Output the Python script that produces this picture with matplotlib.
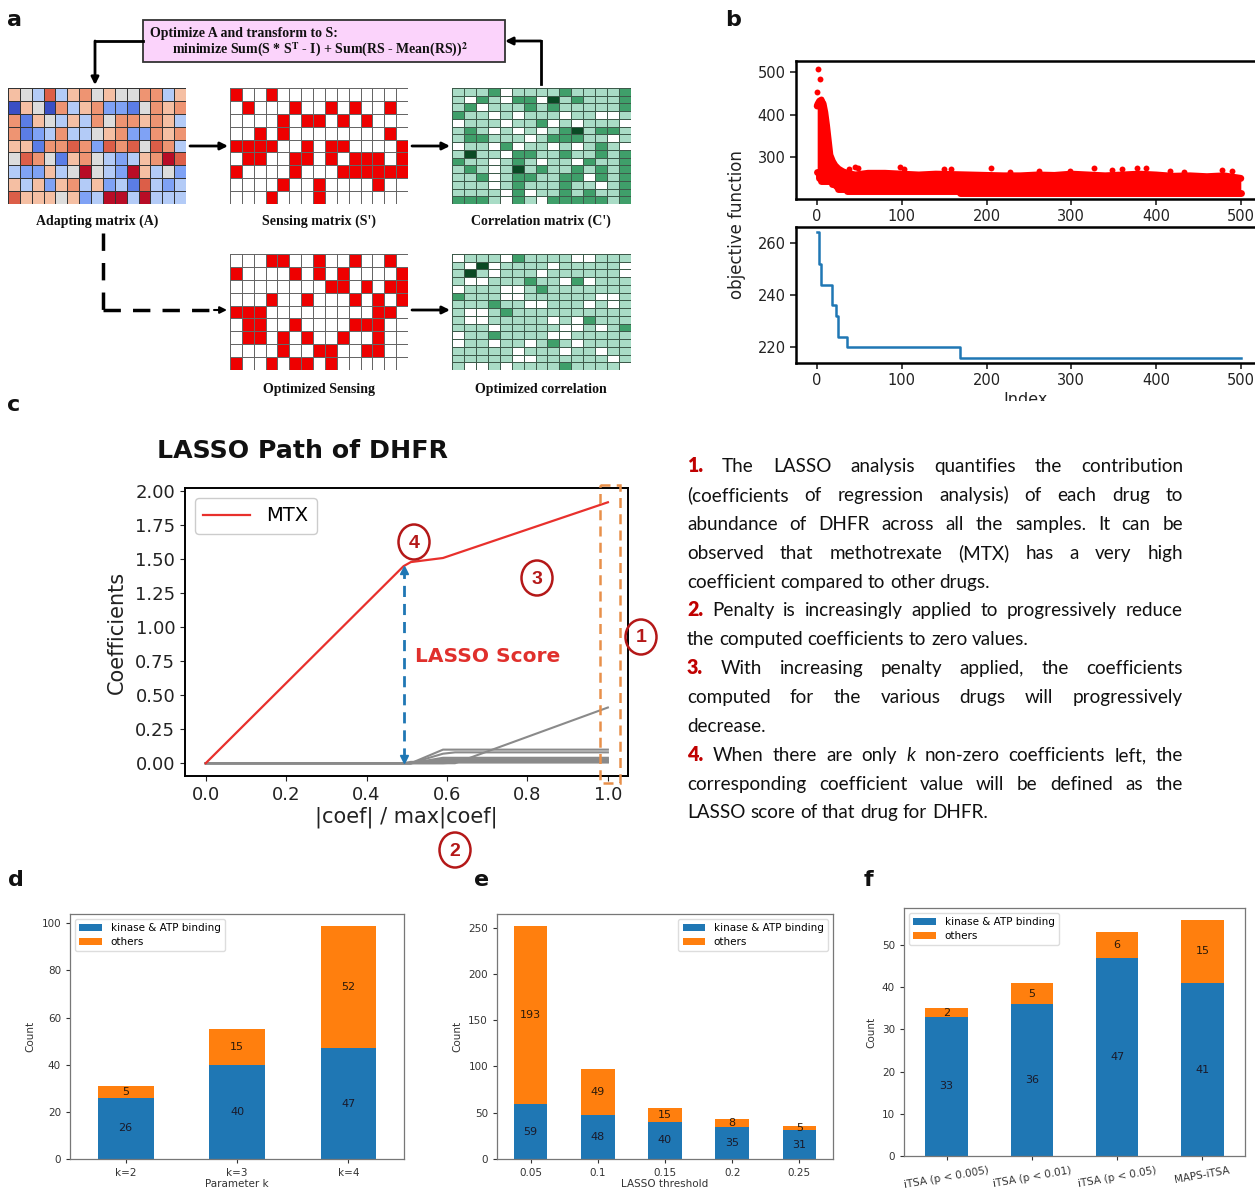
import numpy as np
import matplotlib
matplotlib.use("Agg")
import matplotlib.pyplot as plt
from matplotlib.patches import Rectangle, Ellipse
from matplotlib.colors import ListedColormap, Normalize

# ---------------------------------------------------------------- data
# (a) adapting matrix, diverging levels -4..4
adapting = [
    [1, 0, -1, 3, -1, 1, 2, 0, 1, 0, 0, 2, 2, -1, 1],
    [-4, 1, 0, -4, 2, -1, 1, 2, -2, -2, -3, 0, 2, 1, 2],
    [2, -3, 1, 0, -1, 1, -1, 2, 0, 2, 2, 1, 2, 1, -1],
    [2, -3, -2, -1, 2, -1, -1, 0, 1, 2, -2, -2, 2, 1, 2],
    [1, 1, -3, 2, 2, 3, 2, -2, 3, 2, 3, 0, 3, 2, -1],
    [0, 3, 2, 0, -3, 1, 2, 0, -1, -2, -1, 1, 2, 4, 3],
    [-1, -2, -2, 1, -1, 0, 4, 0, -1, -2, 4, 1, -1, 0, -2],
    [1, -1, 1, -2, 1, 2, -1, 1, -2, -1, -3, 3, -1, -2, -1],
    [3, 1, 1, 1, 0, 1, -2, -1, 4, 4, -1, 4, -1, -1, -1],
]
sensing = [
    "100100000000000",
    "010001001010010",
    "000010110101000",
    "001010000000010",
    "111100101100001",
    "011001101011101",
    "100001000111111",
    "000010010000100",
    "000100010000000",
]
correlation = [
    "111201111211112",
    "102102203121112",
    "120111212111112",
    "211010111011001",
    "011101120101110",
    "121010101231221",
    "122111012221101",
    "011020110101210",
    "131102211211212",
    "211012101102112",
    "121013121121212",
    "112012211220212",
    "111012111211012",
    "111102011212112",
    "222102102222212",
]
opt_sensing = [
    "000110010010010",
    "100001010100001",
    "000000001101011",
    "000100100010101",
    "111000000000110",
    "011001000011100",
    "011010100100100",
    "000010011001100",
    "100101101000000",
]
opt_correlation = [
    "011102111100111",
    "103011110111110",
    "131011101111110",
    "100111211020111",
    "011100121111111",
    "211100111111001",
    "111211001110101",
    "100121111111111",
    "100111110102111",
    "111011111001012",
    "011211110011111",
    "011011012101111",
    "111110111011011",
    "111110011111101",
    "100101111211110",
]

# (b) best objective so far (step changes) and the sampled population cloud
best_idx = [0, 2, 5, 17, 22, 24, 35, 168, 500]
best_val = [264, 252, 244, 236, 232, 224, 220, 216, 216]
cloud_idx = [0, 1, 3, 5, 7, 9, 11, 13, 15, 18, 21, 25, 30, 35, 45, 60, 80, 100,
             120, 140, 160, 180, 200, 220, 240, 260, 280, 300, 320, 340, 360,
             380, 400, 420, 440, 460, 480, 500]
cloud_top = [420, 425, 432, 432, 425, 405, 375, 340, 305, 290, 280, 272, 266,
             262, 258, 262, 262, 260, 258, 260, 259, 258, 257, 256, 256, 258,
             257, 260, 258, 256, 258, 260, 258, 255, 256, 254, 256, 250]
outlier_idx = [1, 3, 0, 4, 6, 37, 45, 48, 98, 103, 150, 158, 205, 228, 262,
               298, 327, 348, 360, 378, 388, 417, 433, 478, 490]
outlier_val = [508, 483, 452, 436, 430, 273, 276, 274, 276, 272, 272, 273, 274,
               266, 268, 268, 274, 270, 272, 274, 274, 268, 266, 270, 268]

# (c) LASSO path of DHFR
path_x = [0.0, 0.492, 0.51, 0.59, 0.62, 1.0]
mtx_coef = [0.0, 1.45, 1.48, 1.51, 1.54, 1.92]
other_coefs = [
    [0, 0, 0, 0.10, 0.10, 0.10],
    [0, 0, 0, 0.07, 0.08, 0.08],
    [0, 0, 0, 0.0, 0.0, 0.41],
    [0, 0, 0, 0.04, 0.04, 0.04],
    [0, 0, 0, 0.03, 0.03, 0.03],
    [0, 0, 0, 0.02, 0.02, 0.02],
    [0, 0, 0.01, 0.01, 0.01, 0.01],
    [0, 0, 0, 0.0, 0.005, 0.005],
]
score_knot = 1  # knot where only k coefficients remain non-zero

# (d) parameter k
k_labels = ["k=2", "k=3", "k=4"]
k_kinase = [26, 40, 47]
k_others = [5, 15, 52]
# (e) LASSO threshold
thr_labels = ["0.05", "0.1", "0.15", "0.2", "0.25"]
thr_kinase = [59, 48, 40, 35, 31]
thr_others = [193, 49, 15, 8, 5]
# (f) method comparison
m_labels = ["iTSA (p < 0.005)", "iTSA (p < 0.01)", "iTSA (p < 0.05)", "MAPS-iTSA"]
m_kinase = [33, 36, 47, 41]
m_others = [2, 5, 6, 15]

text_lines = [
    ("[1.] The LASSO analysis quantifies the contribution", True),
    ("(coefficients of regression analysis) of each drug to", True),
    ("abundance of DHFR across all the samples. It can be", True),
    ("observed that methotrexate (MTX) has a very high", True),
    ("coefficient compared to other drugs.", False),
    ("[2.] Penalty is increasingly applied to progressively reduce", True),
    ("the computed coefficients to zero values.", False),
    ("[3.] With increasing penalty applied, the coefficients", True),
    ("computed for the various drugs will progressively", True),
    ("decrease.", False),
    ("[4.] When there are only _k_ non-zero coefficients left, the", True),
    ("corresponding coefficient value will be defined as the", True),
    ("LASSO score of that drug for DHFR.", False),
]
text_y = [467, 496, 525, 554, 583, 611, 640, 669, 698, 727, 756, 785, 813]

# ---------------------------------------------------------------- figure
plt.rcParams["mathtext.fontset"] = "stix"
W, H = 1255, 1189
fig = plt.figure(figsize=(W / 100, H / 100), dpi=100)
fig.patch.set_facecolor("white")


def px_axes(x0, y0, x1, y1, **kw):
    return fig.add_axes([x0 / W, 1 - y1 / H, (x1 - x0) / W, (y1 - y0) / H], **kw)


def grid_axes(box, data, cmap, norm, edge="#444444", lw=0.6):
    ax = px_axes(*box)
    arr = np.array(data, dtype=float)
    ax.pcolormesh(arr, cmap=cmap, norm=norm, edgecolors=edge, linewidth=lw)
    ax.set_xlim(0, arr.shape[1])
    ax.set_ylim(arr.shape[0], 0)
    ax.axis("off")
    return ax


def digits(rows):
    return [[int(c) for c in r] for r in rows]


# ---- panel a: matrices
div_map = ListedColormap(["#3a4fc4", "#5b7de6", "#7fa2f5", "#b3cbf7", "#dcdcdc",
                          "#f5bfa3", "#ee9472", "#dc5e48", "#b80c26"])
red_map = ListedColormap(["#ffffff", "#ee0000"])
green_map = ListedColormap(["#ffffff", "#a9dcc6", "#3f9f6a", "#0a4a24"])
grid_axes((8, 88, 186, 204), adapting, div_map, Normalize(-4.5, 4.5), edge="#333333", lw=0.7)
grid_axes((230, 88, 408, 204), digits(sensing), red_map, Normalize(-0.5, 1.5), edge="#666666")
grid_axes((452, 88, 631, 204), digits(correlation), green_map, Normalize(-0.5, 3.5), edge="#3d5a4a")
grid_axes((230, 254, 408, 370), digits(opt_sensing), red_map, Normalize(-0.5, 1.5), edge="#666666")
grid_axes((452, 254, 631, 370), digits(opt_correlation), green_map, Normalize(-0.5, 3.5), edge="#3d5a4a")

# ---- panel b: objective function
axb1 = px_axes(796, 61, 1262, 199)
axb1.fill_between(cloud_idx, np.interp(cloud_idx, best_idx, best_val), cloud_top,
                  color="red", lw=0)
lower_x = np.repeat(best_idx, 2)[1:]
lower_y = np.repeat(best_val, 2)[:-1]
axb1.plot(lower_x, lower_y, color="red", lw=5, solid_capstyle="round")
axb1.plot(cloud_idx, cloud_top, color="red", lw=5, solid_capstyle="round", solid_joinstyle="round")
axb1.scatter(outlier_idx, outlier_val, s=18, color="red", lw=0)
axb1.set_xlim(-25, 525)
axb1.set_ylim(201.6, 525.8)
axb1.set_yticks([300, 400, 500])
axb1.set_xticks([0, 100, 200, 300, 400, 500])

axb2 = px_axes(796, 227, 1262, 363)
axb2.plot(best_idx, best_val, drawstyle="steps-post", color="#1f77b4", lw=1.8)
axb2.set_xlim(-25, 525)
axb2.set_ylim(213.9, 266.1)
axb2.set_yticks([220, 240, 260])
axb2.set_xticks([0, 100, 200, 300, 400, 500])
for ax in (axb1, axb2):
    for s in ax.spines.values():
        s.set_linewidth(1.8)
    ax.tick_params(labelsize=10.5, width=1.2, length=4, colors="#222222")

# ---- panel c: LASSO path
axc = px_axes(185, 488, 628, 776)
for coefs in other_coefs:
    axc.plot(path_x, coefs, color="#8a8a8a", lw=1.5)
axc.plot(path_x, mtx_coef, color="#e8302c", lw=1.6, label="MTX")
sx, sy = path_x[score_knot], mtx_coef[score_knot]
axc.plot([sx, sx], [0.03, sy - 0.03], color="#1f77b4", lw=2, ls=(0, (4, 2.5)))
axc.plot(sx, sy - 0.03, marker="^", color="#1f77b4", ms=6)
axc.plot(sx, 0.03, marker="v", color="#1f77b4", ms=6)
axc.set_xlim(-0.0515, 1.05)
axc.set_ylim(-0.094, 2.025)
axc.set_yticks(np.arange(0, 2.01, 0.25))
axc.set_yticklabels([f"{v:.2f}" for v in np.arange(0, 2.01, 0.25)])
axc.set_xticks(np.arange(0, 1.01, 0.2))
axc.set_xticklabels([f"{v:.1f}" for v in np.arange(0, 1.01, 0.2)])
axc.tick_params(labelsize=13, colors="#222222")
axc.set_ylabel("Coefficients", fontsize=15, color="#222222", labelpad=6)
axc.set_xlabel("|coef| / max|coef|", fontsize=15, color="#222222", labelpad=2)
for s in axc.spines.values():
    s.set_linewidth(1.4)
axc.legend(loc="upper left", fontsize=14, handlelength=2.4, borderpad=0.45,
           framealpha=1, edgecolor="#cccccc")


# ---- panels d, e, f: stacked bars
def stacked(box, labels, kin, oth, xlabel, legend_loc, rot=0):
    ax = px_axes(*box)
    x = np.arange(len(labels))
    b1 = ax.bar(x, kin, width=0.5, color="#1f77b4", label="kinase & ATP binding")
    b2 = ax.bar(x, oth, width=0.5, bottom=kin, color="#ff7f0e", label="others")
    ax.bar_label(b1, label_type="center", fontsize=8, color="#1a1a2a")
    ax.bar_label(b2, label_type="center", fontsize=8, color="#2a1a0a")
    ax.set_xticks(x)
    ax.set_xticklabels(labels, rotation=rot)
    ax.set_xlim(-0.5, len(labels) - 0.5)
    ax.set_ylim(0, max(k + o for k, o in zip(kin, oth)) * 1.05)
    ax.set_ylabel("Count", fontsize=7.5, color="#333333")
    if xlabel:
        ax.set_xlabel(xlabel, fontsize=7.5, color="#333333", labelpad=1)
    ax.tick_params(labelsize=7.5, colors="#333333", width=0.8, length=3)
    for s in ax.spines.values():
        s.set_color("#777777")
        s.set_linewidth(0.9)
    ax.legend(loc=legend_loc, fontsize=7.5, handlelength=2.2, framealpha=1,
              edgecolor="#dddddd", borderpad=0.4, labelspacing=0.35)
    return ax


stacked((70, 914, 404, 1159), k_labels, k_kinase, k_others, "Parameter k", "upper left")
stacked((497, 914, 833, 1159), thr_labels, thr_kinase, thr_others, "LASSO threshold", "upper right")
stacked((904, 908, 1245, 1156), m_labels, m_kinase, m_others, None, "upper left", rot=10)

# ---------------------------------------------------------------- overlay
ov = fig.add_axes([0, 0, 1, 1], zorder=10)
ov.set_xlim(0, W)
ov.set_ylim(H, 0)
ov.axis("off")
ov.patch.set_alpha(0)

for lab, (x, y) in zip("abcdef", [(14, 20), (733, 20), (14, 405), (16, 880), (482, 880), (868, 880)]):
    ov.text(x, y, lab, fontsize=16, fontweight="bold", ha="center", va="center", color="#111111")

# panel a: optimisation box and flow arrows
serif = dict(family="Liberation Serif", fontweight="bold", color="#111111")
ov.add_patch(Rectangle((143, 20), 362, 42, facecolor="#fbd3fb", edgecolor="#333333", lw=1.3))
ov.text(150, 33, "Optimize A and transform to S:", fontsize=10, va="center", **serif)
ov.text(172, 50, r"minimize Sum(S * S$^{\mathbf{T}}$ - I) + Sum(RS - Mean(RS))$^{\mathbf{2}}$",
        fontsize=10, va="center", **serif)
arrow_kw = dict(arrowstyle="-|>", lw=2, color="black", mutation_scale=11, shrinkA=0, shrinkB=0)
ov.plot([143, 95], [41, 41], color="black", lw=2)
ov.annotate("", xy=(95, 85), xytext=(95, 41), arrowprops=arrow_kw)
ov.plot([541, 541], [84, 41], color="black", lw=2)
ov.annotate("", xy=(505, 41), xytext=(541, 41), arrowprops=arrow_kw)
for (xa, xb, y) in [(190, 228, 146), (412, 450, 146), (412, 450, 310)]:
    ov.annotate("", xy=(xb, y), xytext=(xa, y), arrowprops=arrow_kw)
ov.plot([103, 103], [233, 310], color="black", lw=2.5, ls=(0, (5, 3.5)))
ov.plot([103, 214], [310, 310], color="black", lw=2.5, ls=(0, (5, 3.5)))
ov.annotate("", xy=(227, 310), xytext=(214, 310),
            arrowprops=dict(arrowstyle="-|>", lw=1.5, color="black", mutation_scale=10, shrinkA=0, shrinkB=0))
for (x, y, t) in [(97, 221, "Adapting matrix (A)"), (319, 221, "Sensing matrix (S')"),
                  (541, 221, "Correlation matrix (C')"), (319, 389, "Optimized Sensing"),
                  (541, 389, "Optimized correlation")]:
    ov.text(x, y, t, fontsize=10, ha="center", va="center", **serif)

# panel b: shared y label and the partly hidden x label
ov.text(737, 225, "objective function", fontsize=12, rotation=90, ha="center", va="center", color="#222222")
ov.text(1026, 400, "Index", fontsize=11.5, ha="center", va="center", color="#222222")
ov.add_patch(Rectangle((700, 401), 555, 14, facecolor="white", edgecolor="none", zorder=5))

# panel c: title, annotations
ov.text(157, 451, "LASSO Path of DHFR", fontsize=18.2, fontweight="bold", ha="left", va="center", color="#111111")
ov.text(415, 657, "LASSO Score", fontsize=14.5, fontweight="bold", ha="left", va="center", color="#e0302c")
ov.add_patch(Rectangle((600, 485), 20, 298, fill=False, edgecolor="#e8904a", lw=1.8, ls=(0, (4, 2.5))))
for (x, y, t) in [(414, 542, "4"), (537, 578, "3"), (641, 637, "1"), (455, 850, "2")]:
    ov.add_patch(Ellipse((x, y), 31, 35, fill=False, edgecolor="#b41818", lw=1.8))
    ov.text(x, y + 1, t, fontsize=14, fontweight="bold", ha="center", va="center",
            color="#b41818", family="Liberation Sans")

# panel c: justified explanation text
renderer = fig.canvas.get_renderer()
x_left, x_right = 687, 1183
size = 13.6
space_w = 4.8
for (line, justify), y in zip(text_lines, text_y):
    arts = []
    for tok in line.split(" "):
        kw = dict(fontsize=size, family="Lato", color="#111111")
        if tok.startswith("[") and tok.endswith("]"):
            tok = tok[1:-1]
            kw.update(color="#c00000", fontweight="heavy", fontsize=size + 0.5)
        elif tok.startswith("_") and tok.endswith("_"):
            tok = tok[1:-1]
            kw.update(style="italic")
        arts.append(ov.text(0, y + 5, tok, va="baseline", ha="left", **kw))
    widths = [a.get_window_extent(renderer).width for a in arts]
    gap = (x_right - x_left - sum(widths)) / (len(arts) - 1) if justify else space_w
    x = x_left
    for a, w in zip(arts, widths):
        a.set_x(x)
        x += w + gap

fig.savefig("out.png", dpi=100, facecolor="white")
